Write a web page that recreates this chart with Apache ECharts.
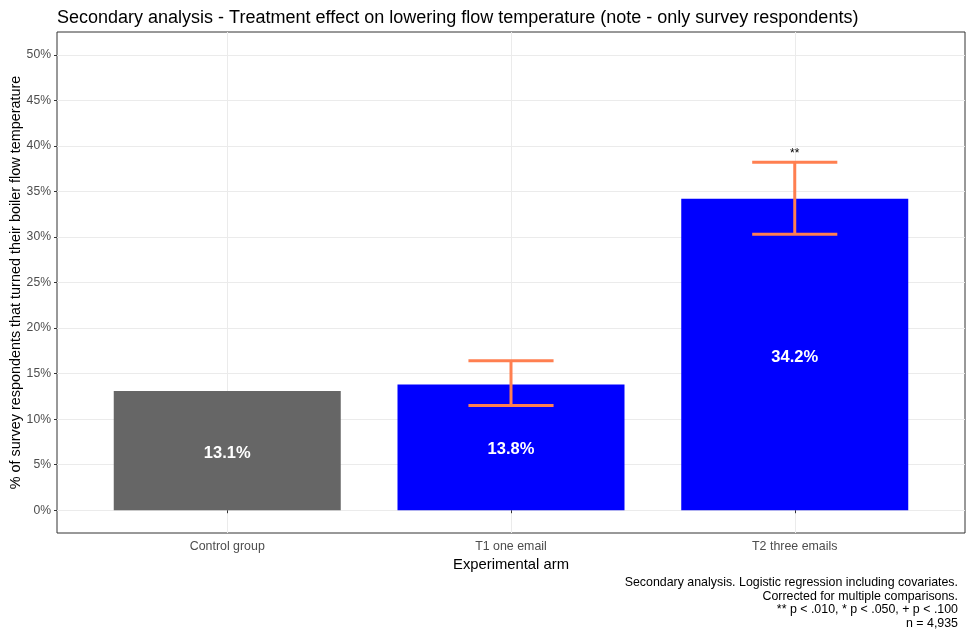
<!DOCTYPE html>
<html><head><meta charset="utf-8">
<script src="https://cdn.jsdelivr.net/npm/echarts@6/dist/echarts.min.js"></script>
<style>html,body{margin:0;padding:0;background:#fff}#c{width:971px;height:635px}</style>
</head><body><div id="c"></div>
<script>
const categories = ['Control group', 'T1 one email', 'T2 three emails'];
const values = [13.1, 13.8, 34.2];
const barColors = ['#666666', '#0000FF', '#0000FF'];
const errLow = [null, 11.5, 30.3];
const errHigh = [null, 16.4, 38.2];
const sigLabels = ['', '', '**'];
const yTicks = [0, 5, 10, 15, 20, 25, 30, 35, 40, 45, 50];
const xTicks = [1, 2, 3];
const captionLines = [
  'Secondary analysis. Logistic regression including covariates.',
  'Corrected for multiple comparisons.',
  '** p < .010, * p < .050, + p < .100',
  'n = 4,935'
];

const FONT = 'Liberation Sans, Arial, sans-serif';
const chart = echarts.init(document.getElementById('c'));

const barData = categories.map((c, i) => [i + 1, values[i], i]);
const errData = categories.map((c, i) => [i + 1, errLow[i], errHigh[i], i]).filter(d => d[1] != null);

chart.setOption({
  animation: false,
  backgroundColor: '#fff',
  textStyle: { fontFamily: FONT },
  title: {
    text: 'Secondary analysis - Treatment effect on lowering flow temperature (note - only survey respondents)',
    left: 57, top: 9, padding: 0,
    textStyle: { fontFamily: FONT, fontSize: 18, fontWeight: 'normal', color: '#000' }
  },
  grid: {
    left: 57, right: 6, top: 32, bottom: 102,
    outerBoundsMode: 'none', containLabel: false,
    show: true, borderColor: '#333333', borderWidth: 1, backgroundColor: 'transparent'
  },
  xAxis: {
    type: 'value', min: 0.4, max: 3.6,
    name: 'Experimental arm', nameLocation: 'middle', nameGap: 24, nameMoveOverlap: false,
    nameTextStyle: { fontFamily: FONT, fontSize: 14.8, color: '#000' },
    axisLine: { show: false },
    axisTick: { show: true, customValues: xTicks, length: 3, lineStyle: { color: '#333333' } },
    axisLabel: { customValues: xTicks, formatter: v => categories[Math.round(v) - 1], color: '#4D4D4D', fontSize: 12.4, fontFamily: FONT, margin: 8 },
    splitLine: { show: true, lineStyle: { color: '#EBEBEB', width: 1 } }
  },
  yAxis: {
    type: 'value', min: -2.5, max: 52.5,
    name: '% of survey respondents that turned their boiler flow temperature',
    nameLocation: 'middle', nameGap: 34, nameMoveOverlap: false,
    nameTextStyle: { fontFamily: FONT, fontSize: 14.4, color: '#000' },
    axisLine: { show: false },
    axisTick: { show: true, customValues: yTicks, length: 3, lineStyle: { color: '#333333' } },
    axisLabel: { customValues: yTicks, formatter: v => v + '%', color: '#4D4D4D', fontSize: 12.2, fontFamily: FONT, margin: 6 },
    splitLine: { show: true, lineStyle: { color: '#EBEBEB', width: 1 } }
  },
  series: [
    {
      type: 'custom', z: 3,
      data: barData,
      encode: { x: 0, y: 1 },
      renderItem: function (params, api) {
        const x = api.value(0), v = api.value(1), idx = api.value(2);
        const p0 = api.coord([x - 0.4, v]);
        const p1 = api.coord([x + 0.4, 0]);
        const pm = api.coord([x, v / 2]);
        return {
          type: 'group',
          children: [
            { type: 'rect', shape: { x: p0[0], y: p0[1], width: p1[0] - p0[0], height: p1[1] - p0[1] }, style: { fill: barColors[idx] } },
            { type: 'text', x: pm[0], y: pm[1] + 2.5, style: { text: v.toFixed(1) + '%', fill: '#fff', font: 'bold 16.5px ' + FONT, align: 'center', verticalAlign: 'middle' } }
          ]
        };
      }
    },
    {
      type: 'custom', z: 4,
      data: errData,
      encode: { x: 0, y: [1, 2] },
      renderItem: function (params, api) {
        const x = api.value(0), lo = api.value(1), hi = api.value(2), idx = api.value(3);
        const c = '#FF7F50';
        const pl = api.coord([x, lo]), ph = api.coord([x, hi]);
        const wl = api.coord([x - 0.15, lo]), wr = api.coord([x + 0.15, lo]);
        const hl = api.coord([x - 0.15, hi]), hr = api.coord([x + 0.15, hi]);
        const ps = api.coord([x, hi + 1.1]);
        const ls = { stroke: c, lineWidth: 3 };
        return {
          type: 'group',
          children: [
            { type: 'line', shape: { x1: pl[0], y1: pl[1], x2: ph[0], y2: ph[1] }, style: ls },
            { type: 'line', shape: { x1: wl[0], y1: wl[1], x2: wr[0], y2: wr[1] }, style: ls },
            { type: 'line', shape: { x1: hl[0], y1: hl[1], x2: hr[0], y2: hr[1] }, style: ls },
            { type: 'text', x: ps[0], y: ps[1] + 1, style: { text: sigLabels[idx], fill: '#000', font: '12px ' + FONT, align: 'center', verticalAlign: 'middle' } }
          ]
        };
      }
    }
  ],
  graphic: captionLines.map((t, i) => ({
    type: 'text', x: 958, y: 583 + i * 13.5,
    style: { text: t, fill: '#000', font: '12.4px ' + FONT, align: 'right', textAlign: 'right', verticalAlign: 'middle' }
  }))
});
</script>
</body></html>
